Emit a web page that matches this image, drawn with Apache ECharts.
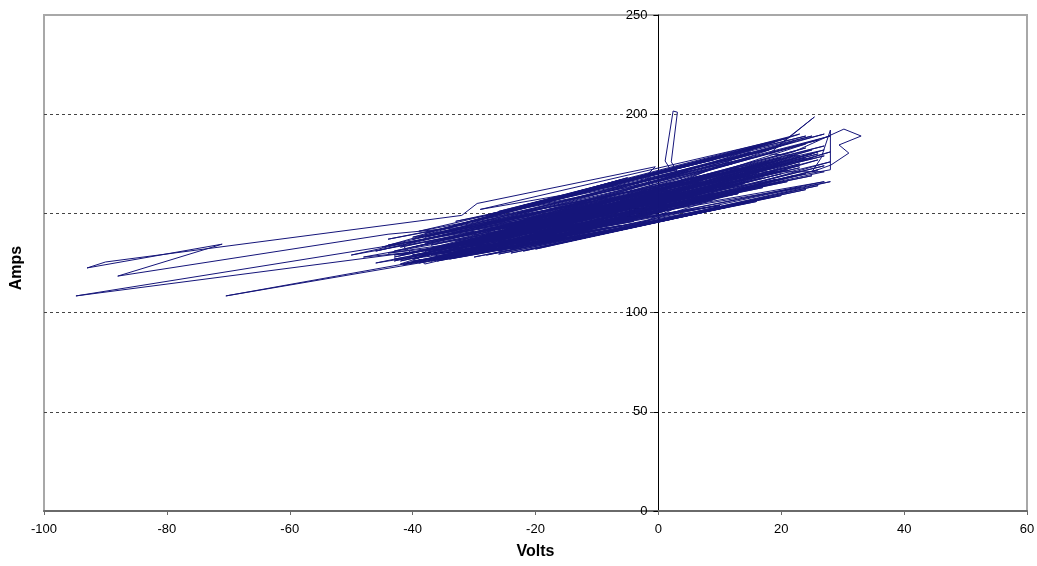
<!DOCTYPE html>
<html>
<head>
<meta charset="utf-8">
<script src="https://cdn.jsdelivr.net/npm/echarts@6/dist/echarts.min.js"></script>
<style>
html,body{margin:0;padding:0;background:#fff;}
#chart{width:1037px;height:566px;}
</style>
</head>
<body>
<div id="chart"></div>
<script>
// Axis settings (tick labels generated from these)
const xTicks = { min: -100, max: 60, step: 20 };
const yTicks = { min: 0, max: 250, step: 50 };
const xTitle = 'Volts';
const yTitle = 'Amps';

// Volts (x) and Amps (y) samples, in drawing order
const volts = [
 -36,-8,-31,14,-24,21,-39,4,-34,25,-19,-42,9,-28,23,-14,-37,17,-6,-33,27,-21,1,-40,19,-17,-43,11,-26,24,
 -10,-35,16,-3,-30,26,-22,-41,7,-29,22,-13,-38,13,-7,-32,
 -44,-88,-71,-93,-90,-32,-29.5,-0.5,
 -5,28,-18,3,-36,20,-25,-44,10,-15,-39,18,-5,-27,25,-11,-33,15,-1,-29,21,
 2,1.1,2.4,3.1,2.1,4,
 -20,-46,12,-23,27,-9,-38,
 -42,-94.8,-40,
 6,-31,24,-16,-41,17,-4,-34,
 -38,-70.4,-36,
 28,-12,2,-27,22,-19,-48,9,-25,26,-8,-36,14,-2,-30,20,-14,-40,5,
 -1,1,-2,0,-22,16,-37,11,-28,23,
 18,25.4,19,-17,-43,8,-33,22,30.2,33,29.4,31,28.1,25,26.5,28,28,
 -11,-38,19,-6,-26,25,-20,3,-35,21,
 -4,-41.6,-12,27,-50,-9,24,-24,6,-45,-12,-5,-30,12,-40,27,-16,-46,8,-23,15,-3,-34,23,-10,-28,19,-2,-37,26,
 -15,-44,10,-21,28,-7,-31,4,-18,13,-26,20,-39,-1,-24,23,-32,27,-8,10,-43,
 -41,-30,-39,-27,-36,-22,-33,-18,-29,-14,-25,-9,-21,-5,-17,-2,-13,1,-10,5,-6,9,-3,13,0,17,4,21,8,25,12,27,
 14,26,10,22,6,18,2,14,-2,10,-6,6,-10,2,-14,-2,-18,-6,-22,-10,-26,-14,-30,-18,-34,-22,-38,-26,-42,-30,-44,
 20,-39,16,-35,24,-31,11,-42,19,-27,26,-37,7,-24,23,-40,15,-33,27,-20,-43,12,-29,22,-16,-38,18,-12,-35,25,-8,-31,21,-4,-28,17,-1,-25,13,3,
 -32,-8,-30,-6,-28,-4,-34,-12,-37,-15,-40,-19,-36,-11,-26,-3,-23,-7,-20,-1,-31,-16,-38,-24,-43,-27,-33,-13,-29,-9,-35,-17,-21,-5,-39,-23,-11,
 -40,-12,-35,-6,-28,3,-22,9,-16,15,-30,19,-20,24,-8,-38,0,-24,12,-14,21,-4,-33,6,-18,17,-26,23,
 -42,-10,-34,-4,-28,2,-22,8,-16,14,-30,20,-24,26,-12,-39,4,-20,11,-6,18,-36,0,-14,24,-26,16,-8,28,-40
];
const amps = [
 131,150,134,166,140,172,128,158,133,180,141,126,162,136,175,145,129,168,150,138,184,145,156,133,176,149,131,167,142,183,
 155,137,174,160,140,187,148,135,166,144,186,155,138,173,158,143,
 139.5,118.4,134.5,122.5,125.5,149,155,173.5,
 160,189,152,164,140,184,148,137,170,155,141,182,163,150,189,159,146,178,167,152,188,
 172,176.4,201.6,201,176,166,
 138,125,162,137,174,146,124.5,
 134.6,108.4,130.5,
 157,130,170,139,125,164,149,129,
 125.5,108.4,127.5,
 176,141,152,133,169,137,128,160,136,177,146,127,165,151,132,170,143,129,158,
 163,154,170,149,142,172,134,164,139,179,
 180,198.6,183,145,128,161,135,181,192.5,189,184.5,180.4,174.4,170.9,178,192,172,
 150,131,173,154,141,178,144,160,133,177,
 143.5,124,147,182,129,152,185,145,163,133,162,168,146,175,137,190,153,131,168,150,181,157,141,174,148,132,167,146,126,172,
 140,130,154,139,181,147,136,155,142,160,131,166,126,153,132,163,134,166,144,154,127,
 127,131,129,134,128,137,131,140,133,142,135,145,138,147,140,149,143,151,145,154,147,157,150,160,152,163,155,166,158,169,161,171,
 171,181,168,179,166,176,163,173,160,170,157,167,154,164,151,161,148,158,145,155,142,152,139,149,137,146,135,143,133,141,134,
 178,131,170,130,178,135,163,129,171,137,180,132,160,140,173,127,169,134,179,143,126,166,138,176,146,130,173,149,132,182,151,136,178,154,139,175,158,142,172,161,
 129,143,130,144,132,146,130,141,129,138,126,136,127,143,133,148,135,146,138,150,133,141,131,139,129,137,136,147,141,152,139,149,147,155,138,149,156,
 138,162,142,167,149,172,154,177,158,182,146,186,155,189,165,140,170,152,180,160,188,168,144,175,157,184,151,190,
 124.5,140,127,144,129,147,131,151,135,155,128,159,130,164,139,125,149,132,153,142,158,126,146,137,162,129.5,156,141,166,125
];

const points = volts.map((v, i) => [v, amps[i]]);
const font = '"Liberation Sans", Arial, sans-serif';

const gridLeft = 44, gridWidth = 983;
// y axis sits at Volts = 0
const yAxisOffset = -gridWidth * (0 - xTicks.min) / (xTicks.max - xTicks.min);

const chart = echarts.init(document.getElementById('chart'), null, { renderer: 'canvas' });
chart.setOption({
  animation: false,
  backgroundColor: '#ffffff',
  grid: {
    left: gridLeft, top: 15, width: gridWidth, height: 496,
    containLabel: false, outerBoundsMode: 'none',
    show: true, borderColor: '#a8a8a8', borderWidth: 2, backgroundColor: 'transparent'
  },
  graphic: [{
    type: 'text',
    x: 17, y: 268,
    rotation: Math.PI / 2,
    style: {
      text: yTitle, fill: '#000',
      font: 'bold 16px "Liberation Sans", Arial, sans-serif',
      align: 'center', verticalAlign: 'middle'
    }
  }],
  xAxis: {
    type: 'value', min: xTicks.min, max: xTicks.max, interval: xTicks.step,
    name: xTitle, nameLocation: 'middle', nameGap: 33,
    nameTextStyle: { fontFamily: font, fontWeight: 'bold', fontSize: 16, color: '#000' },
    axisLine: { show: true, onZero: false, lineStyle: { color: '#6a6a6a', width: 2 } },
    axisTick: { show: true, length: 4, lineStyle: { color: '#6a6a6a', width: 1 } },
    axisLabel: { margin: 12, fontFamily: font, fontSize: 13, color: '#000' },
    splitLine: { show: false }
  },
  yAxis: {
    type: 'value', min: yTicks.min, max: yTicks.max, interval: yTicks.step,
    position: 'left', offset: yAxisOffset,
    axisLine: { show: true, onZero: false, lineStyle: { color: '#000', width: 1 } },
    axisTick: { show: true, length: 5, lineStyle: { color: '#000', width: 1 } },
    axisLabel: { margin: 11, fontFamily: font, fontSize: 13, color: '#000' },
    splitLine: { show: true, showMinLine: false, showMaxLine: false,
      lineStyle: { color: '#444', width: 1, type: [3, 3] } }
  },
  series: [{
    type: 'line',
    data: points,
    showSymbol: false,
    symbol: 'none',
    smooth: false,
    clip: true,
    lineStyle: { color: '#15157a', width: 1 }
  }]
});
</script>
</body>
</html>
